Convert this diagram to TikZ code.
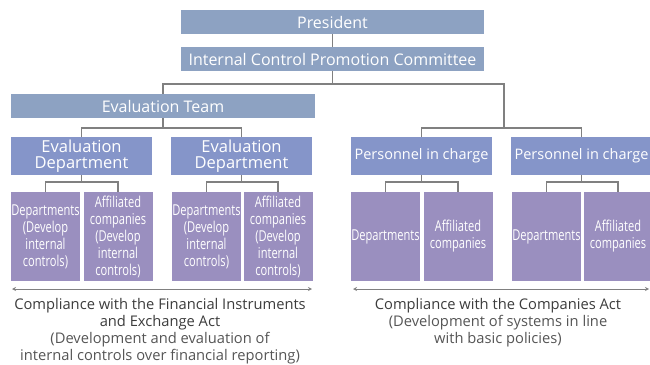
\documentclass[tikz,border=0pt]{standalone}
\usepackage{fontspec}
\setmainfont{Open Sans}
\newfontfamily\condfont[FakeStretch=0.74]{Open Sans}
\usetikzlibrary{arrows.meta}
\definecolor{topc}{HTML}{8DA2C2}
\definecolor{midc}{HTML}{8595C9}
\definecolor{subc}{HTML}{9A8FBF}
\definecolor{linec}{HTML}{808080}
\definecolor{txtc}{HTML}{3C3C3C}
\definecolor{txtl}{HTML}{555555}
\begin{document}
\begin{tikzpicture}[x=1pt,y=-1pt,
  box/.style={inner sep=0pt, text=white, align=center},
  topbox/.style={box, fill=topc, minimum height=24pt, font=\fontsize{16}{18}\selectfont},
  midbox/.style={box, fill=midc, minimum width=141pt, minimum height=38pt, font=\fontsize{16.5}{16.5}\selectfont},
  pcbox/.style={midbox, font=\fontsize{14.5}{16}\selectfont},
  subbox/.style={box, fill=subc, minimum width=69pt, minimum height=89pt, font=\condfont\fontsize{15}{17}\selectfont},
  conn/.style={draw=linec, line width=1.2pt},
  span/.style={draw=linec, line width=0.8pt, {Stealth[open,length=4pt,width=4pt]}-{Stealth[open,length=4pt,width=4pt]}},
  note/.style={align=center, text=txtc, font=\fontsize{14.7}{17}\selectfont}
]
\useasboundingbox (0,0) rectangle (650,364);
% top
\node[topbox, minimum width=303pt] (pres) at (332.5,22) {President};
\node[topbox, minimum width=303pt] (comm) at (332.5,59) {Internal Control Promotion Committee};
\node[topbox, minimum width=304pt] (team) at (163,106) {Evaluation Team};
% mid
\node[midbox] (ed1) at (81.5,156) {Evaluation\\Department};
\node[midbox] (ed2) at (241.5,156) {Evaluation\\Department};
\node[pcbox] (pc1) at (421.5,156) {Personnel in charge};
\node[pcbox] (pc2) at (581.5,156) {Personnel in charge};
% sub
\node[subbox] (d1) at (45.5,236.5) {Departments\\(Develop\\internal\\controls)};
\node[subbox] (a1) at (118,236.5) {Affiliated\\companies\\(Develop\\internal\\controls)};
\node[subbox] (d2) at (206.5,236.5) {Departments\\(Develop\\internal\\controls)};
\node[subbox] (a2) at (278,236.5) {Affiliated\\companies\\(Develop\\internal\\controls)};
\node[subbox] (d3) at (385.5,236.5) {Departments};
\node[subbox] (a3) at (458,236.5) {Affiliated\\companies};
\node[subbox] (d4) at (546.5,236.5) {Departments};
\node[subbox] (a4) at (618,236.5) {Affiliated\\companies};
% junctions
\coordinate (j0) at (332.5,84);
\coordinate (jt) at (163,128);
\coordinate (jr) at (504,128);
\coordinate (k1) at (81.5,182);
\coordinate (k2) at (241.5,182);
\coordinate (k3) at (421.5,182);
\coordinate (k4) at (581.5,182);
% connectors
\draw[conn] (pres) -- (comm);
\draw[conn] (comm) -- (j0);
\draw[conn] (team.north) |- (j0) -| (jr);
\draw[conn] (team) -- (jt);
\draw[conn] (ed1.north) |- (jt) -| (ed2.north);
\draw[conn] (pc1.north) |- (jr) -| (pc2.north);
\draw[conn] (ed1) -- (k1); \draw[conn] (d1.north) |- (k1) -| (a1.north);
\draw[conn] (ed2) -- (k2); \draw[conn] (d2.north) |- (k2) -| (a2.north);
\draw[conn] (pc1) -- (k3); \draw[conn] (d3.north) |- (k3) -| (a3.north);
\draw[conn] (pc2) -- (k4); \draw[conn] (d4.north) |- (k4) -| (a4.north);
% spans
\coordinate (s1) at (12,289); \coordinate (e1) at (312,289);
\coordinate (s2) at (353,289); \coordinate (e2) at (649,289);
\draw[span] (s1) -- (e1);
\draw[span] (s2) -- (e2);
\node[note, anchor=north] (n1) at (160,295) {Compliance with the Financial Instruments\\and Exchange Act\\\color{txtl}(Development and evaluation of\\\color{txtl}internal controls over financial reporting)};
\node[note, anchor=north] (n2) at (498,295) {Compliance with the Companies Act\\\color{txtl}(Development of systems in line\\\color{txtl}with basic policies)};
\end{tikzpicture}
\end{document}
